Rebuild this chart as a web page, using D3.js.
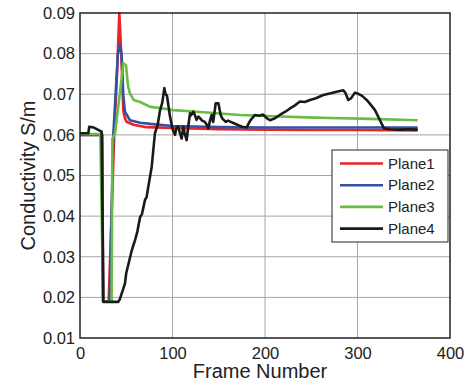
<!DOCTYPE html>
<html>
<head>
<meta charset="utf-8">
<script src="https://cdn.jsdelivr.net/npm/d3@7"></script>
<style>
  body { margin: 0; background: #fff; }
  text { font-family: "Liberation Sans", Arial, sans-serif; fill: #222; }
</style>
</head>
<body>
<div id="chart"></div>
<script>
const xTicks = [0, 100, 200, 300, 400]
const yTicks = [0.01, 0.02, 0.03, 0.04, 0.05, 0.06, 0.07, 0.08, 0.09]

const plane1Frames = [0, 24, 25, 31, 37, 40, 42.5, 45, 46.8, 48.6, 50.5, 57.7, 72, 100, 150, 200, 250, 300, 365]
const plane1Values = [0.06, 0.06, 0.019, 0.019, 0.06, 0.075, 0.09, 0.078, 0.066, 0.0641, 0.0632, 0.0625, 0.0619, 0.0617, 0.0614, 0.0613, 0.0612, 0.0612, 0.0611]

const plane2Frames = [0, 24, 25, 32, 36, 41, 43.2, 45, 46.8, 48.6, 54, 65, 76, 100, 150, 200, 250, 300, 365]
const plane2Values = [0.06, 0.06, 0.019, 0.019, 0.06, 0.08, 0.0821, 0.0797, 0.0698, 0.0657, 0.0636, 0.063, 0.0627, 0.0622, 0.0619, 0.0618, 0.0618, 0.0618, 0.0618]

const plane3Frames = [0, 22, 25, 34.2, 35, 38, 44, 46.8, 49.7, 52, 54, 58, 65, 76, 86, 101, 137, 173, 209, 245, 281, 303, 365]
const plane3Values = [0.0602, 0.0602, 0.019, 0.019, 0.059, 0.0605, 0.072, 0.0776, 0.0772, 0.0719, 0.0702, 0.0686, 0.0681, 0.0669, 0.0666, 0.0661, 0.0655, 0.0649, 0.0646, 0.0643, 0.0641, 0.064, 0.0636]

const plane4Frames = [0, 9, 10, 15, 23.4, 25.2, 41.4, 43, 48.6, 50, 56, 59.5, 62, 65, 67, 70.3, 72, 75, 77.5, 81, 84, 86.5, 89, 91.2, 92.5, 94, 97.3, 100, 102.7, 104, 106, 108, 109.9, 111.7, 113, 115.3, 117, 118.9, 120, 122.5, 124, 126, 128, 129.7, 132, 135, 137, 138.7, 140, 142.3, 144, 146.7, 149.6, 152.1, 154, 157.5, 160, 163, 167, 171.1, 175, 180, 184, 189, 194, 198, 202, 205.4, 210, 216, 222, 227, 232, 237.8, 243, 248.6, 255, 263, 270, 277.5, 284.7, 287, 290, 293, 297.3, 300.9, 305, 309.9, 314, 318.9, 324.3, 328.6, 335, 345, 355, 365]
const plane4Values = [0.0604, 0.0604, 0.062, 0.0618, 0.0608, 0.0189, 0.0189, 0.0195, 0.0234, 0.026, 0.0316, 0.0341, 0.0362, 0.0398, 0.0405, 0.044, 0.0447, 0.0488, 0.0521, 0.0604, 0.0625, 0.066, 0.068, 0.0715, 0.07, 0.0697, 0.0645, 0.0615, 0.06, 0.0615, 0.0621, 0.0605, 0.0591, 0.062, 0.0605, 0.0587, 0.062, 0.0653, 0.0648, 0.0657, 0.065, 0.0637, 0.0645, 0.0641, 0.0635, 0.0632, 0.0625, 0.0616, 0.063, 0.0649, 0.0632, 0.0678, 0.0678, 0.0649, 0.064, 0.0632, 0.0635, 0.0632, 0.0628, 0.0624, 0.062, 0.0618, 0.0635, 0.0649, 0.0647, 0.065, 0.0641, 0.0636, 0.064, 0.0649, 0.0657, 0.0665, 0.0672, 0.0682, 0.0681, 0.0686, 0.069, 0.0698, 0.0702, 0.0706, 0.071, 0.0703, 0.0686, 0.069, 0.0704, 0.0701, 0.0696, 0.0686, 0.0675, 0.0661, 0.0636, 0.0616, 0.0614, 0.0613, 0.0614, 0.0613]

const seriesNames = ['Plane1', 'Plane2', 'Plane3', 'Plane4']
const seriesColors = ['#ec2227', '#3551a4', '#68bd45', '#1a1a1a']

const series = [
  { name: seriesNames[0], color: seriesColors[0], frames: plane1Frames, values: plane1Values },
  { name: seriesNames[1], color: seriesColors[1], frames: plane2Frames, values: plane2Values },
  { name: seriesNames[2], color: seriesColors[2], frames: plane3Frames, values: plane3Values },
  { name: seriesNames[3], color: seriesColors[3], frames: plane4Frames, values: plane4Values }
]

const width = 467
const height = 388
const margin = { top: 13, right: 17, bottom: 50, left: 80 }
const plotW = width - margin.left - margin.right
const plotH = height - margin.top - margin.bottom

const svg = d3.select('#chart')
  .append('svg')
  .attr('width', width)
  .attr('height', height)

const g = svg.append('g')
  .attr('transform', `translate(${margin.left},${margin.top})`)

const x = d3.scaleLinear().domain([0, 400]).range([0, plotW])
const y = d3.scaleLinear().domain([0.01, 0.09]).range([plotH, 0])

// grid
g.selectAll('.gx')
  .data(xTicks.slice(1, -1))
  .enter()
  .append('line')
  .attr('x1', d => x(d)).attr('x2', d => x(d))
  .attr('y1', 0).attr('y2', plotH)
  .attr('stroke', '#a6a6a6').attr('stroke-width', 1)

g.selectAll('.gy')
  .data(yTicks.slice(1, -1))
  .enter()
  .append('line')
  .attr('x1', 0).attr('x2', plotW)
  .attr('y1', d => y(d)).attr('y2', d => y(d))
  .attr('stroke', '#a6a6a6').attr('stroke-width', 1)

// lines
const line = d3.line()
  .x(d => x(d[0]))
  .y(d => y(d[1]))

g.selectAll('.series')
  .data(series)
  .enter()
  .append('path')
  .attr('d', s => line(s.frames.map((f, i) => [f, s.values[i]])))
  .attr('fill', 'none')
  .attr('stroke', s => s.color)
  .attr('stroke-width', 2.6)
  .attr('stroke-linejoin', 'round')

// frame
g.append('rect')
  .attr('x', 0).attr('y', 0)
  .attr('width', plotW).attr('height', plotH)
  .attr('fill', 'none')
  .attr('stroke', '#222').attr('stroke-width', 1.5)

// axes
const xAxis = g.append('g')
  .attr('transform', `translate(0,${plotH})`)
  .call(d3.axisBottom(x).tickValues(xTicks).tickSize(0).tickPadding(9).tickFormat(d3.format('d')))
xAxis.select('.domain').remove()
xAxis.selectAll('text').style('font-size', '16.5px').attr('fill', '#222')

const yAxis = g.append('g')
  .call(d3.axisLeft(y).tickValues(yTicks).tickSize(0).tickPadding(5).tickFormat(d3.format('.2f')))
yAxis.select('.domain').remove()
yAxis.selectAll('text').style('font-size', '16.5px').attr('fill', '#222')

svg.append('text')
  .attr('x', margin.left + plotW / 2 - 5)
  .attr('y', 378)
  .attr('text-anchor', 'middle')
  .style('font-size', '20px')
  .text('Frame Number')

svg.append('text')
  .attr('transform', `translate(35,${margin.top + plotH / 2}) rotate(-90)`)
  .attr('text-anchor', 'middle')
  .style('font-size', '20px')
  .text('Conductivity S/m')

// legend
const legend = svg.append('g').attr('transform', 'translate(332,150)')
legend.append('rect')
  .attr('width', 116).attr('height', 92)
  .attr('fill', '#fff')
  .attr('stroke', '#222').attr('stroke-width', 1)

const rows = legend.selectAll('.row')
  .data(series)
  .enter()
  .append('g')
  .attr('transform', (d, i) => `translate(0,${13.5 + i * 21.7})`)

rows.append('line')
  .attr('x1', 8).attr('x2', 51)
  .attr('stroke', d => d.color)
  .attr('stroke-width', 2.6)

rows.append('text')
  .attr('x', 56)
  .attr('dy', '0.35em')
  .style('font-size', '15px')
  .text(d => d.name)
</script>
</body>
</html>
